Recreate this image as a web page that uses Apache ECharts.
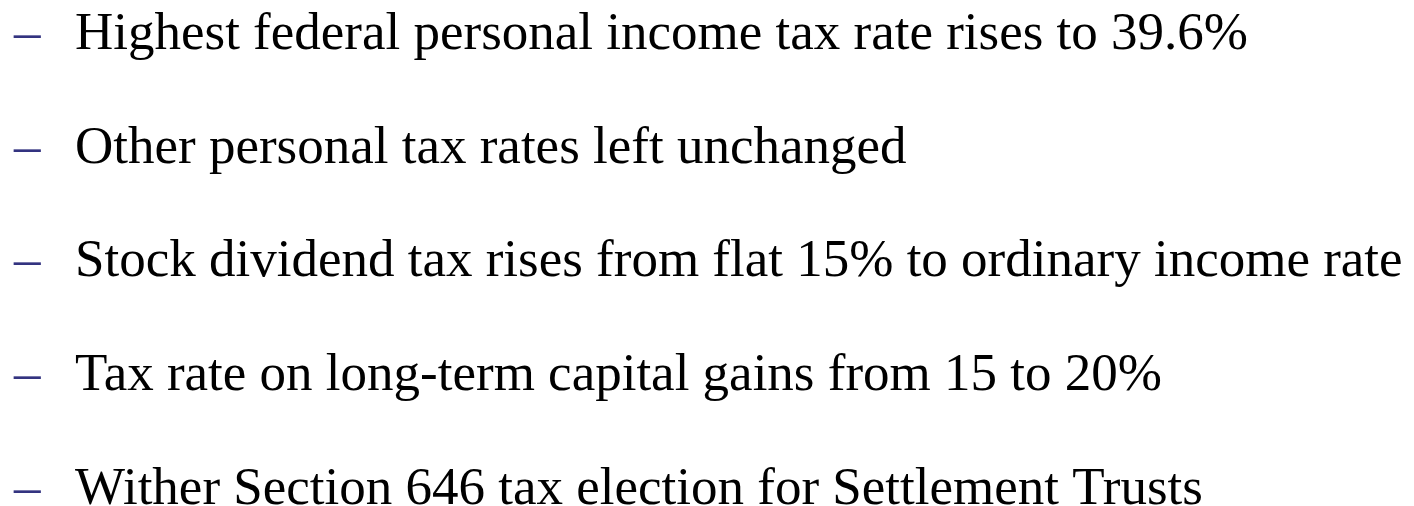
<!DOCTYPE html>
<html><head><meta charset="utf-8">
<script src="https://cdn.jsdelivr.net/npm/echarts@6/dist/echarts.min.js"></script>
<style>html,body{margin:0;padding:0;background:#fff}#c{width:1414px;height:506px}</style>
</head><body><div id="c"></div>
<script>
var items = [
  "Highest federal personal income tax rate rises to 39.6%",
  "Other personal tax rates left unchanged",
  "Stock dividend tax rises from flat 15% to ordinary income rate",
  "Tax rate on long-term capital gains from 15 to 20%",
  "Wither Section 646 tax election for Settlement Trusts"
];
var bulletChar = "\u2013";

var chart = echarts.init(document.getElementById('c'), null, {renderer: 'canvas'});
var fontSize = 53, firstMid = 35, step = 113.75;
var graphics = [];
items.forEach(function (t, i) {
  var y = firstMid + i * step;
  graphics.push({type: 'text', left: 14, top: y - fontSize / 2,
    style: {text: bulletChar, font: fontSize + 'px "Liberation Serif"', fill: '#333380'}});
  graphics.push({type: 'text', left: 75, top: y - fontSize / 2,
    style: {text: t, font: fontSize + 'px "Liberation Serif"', fill: '#000'}});
});
chart.setOption({backgroundColor: '#fff', graphic: graphics});
</script></body></html>
